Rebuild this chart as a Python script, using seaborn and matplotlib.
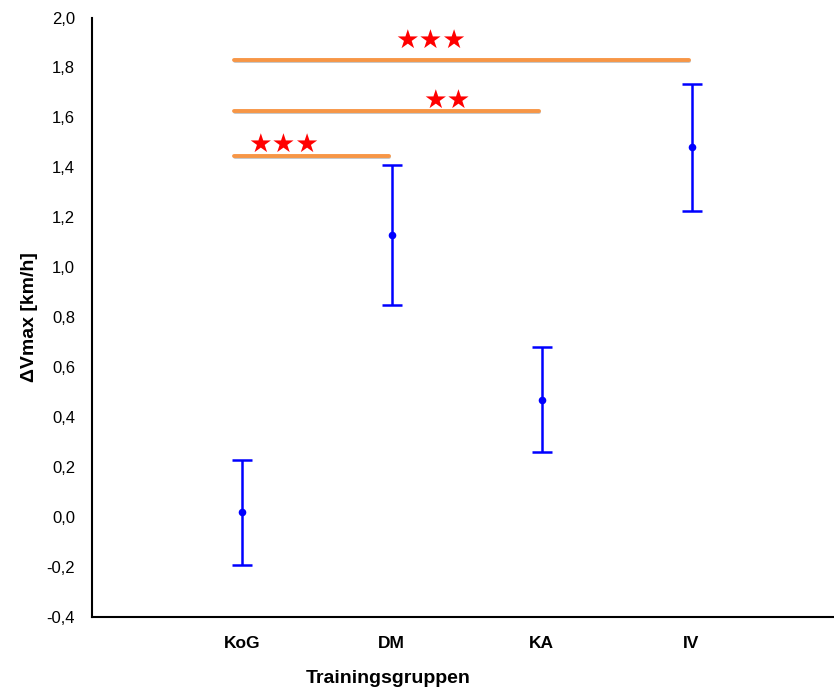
import matplotlib
matplotlib.use("Agg")
import matplotlib.pyplot as plt
import matplotlib.patheffects as pe
from matplotlib.ticker import FuncFormatter, MultipleLocator
import numpy as np
import pandas as pd
import seaborn as sns

# Mean change in Vmax per training group with error margins
groups = ["KoG", "DM", "KA", "IV"]
means = [0.02, 1.13, 0.47, 1.48]
errors = [0.21, 0.28, 0.21, 0.255]

# Significance brackets: start group, end group, height, star label, label x
bracket_start = [0, 0, 0]
bracket_end = [1, 2, 3]
bracket_y = [1.445, 1.625, 1.83]
bracket_stars = ["★★★", "★★", "★★★"]
star_x = [0.28, 1.37, 1.26]
star_y = [1.49, 1.665, 1.905]

sns.set_theme(style="white")
plt.rcParams["font.family"] = ["Liberation Sans", "DejaVu Sans"]
plt.rcParams["text.color"] = "black"
plt.rcParams["axes.labelcolor"] = "black"
plt.rcParams["xtick.color"] = "black"
plt.rcParams["ytick.color"] = "black"

df = pd.DataFrame({"group": groups, "mean": means, "err": errors})
df["pos"] = np.arange(len(groups))

fig = plt.figure(figsize=(8.34, 6.93), dpi=100)
ax = fig.add_axes([0.110, 0.1097, 0.89, 0.865])

orange = "#F79646"
for s, e, y in zip(bracket_start, bracket_end, bracket_y):
    ax.plot([s - 0.05, e - 0.02], [y, y], color=orange, lw=2.8,
            solid_capstyle="round", zorder=2,
            path_effects=[pe.SimpleLineShadow(offset=(0.6, -0.8), alpha=0.25),
                          pe.Normal()])
for x, y, t in zip(star_x, star_y, bracket_stars):
    ax.text(x, y, t, color="#FF0000", fontsize=19, ha="center", va="center",
            family=["DejaVu Sans"], zorder=3)

ax.errorbar(df["pos"], df["mean"], yerr=df["err"], fmt="none",
            ecolor="#0000FF", elinewidth=1.8, capsize=7, capthick=1.8, zorder=4)
sns.scatterplot(data=df, x="pos", y="mean", ax=ax, color="#0000FF", s=30,
                edgecolor="#0000FF", linewidth=0, zorder=5, legend=False)

ax.set_xlim(-1.0, 3.95)
ax.set_ylim(-0.4, 2.0)
ax.yaxis.set_major_locator(MultipleLocator(0.2))
ax.yaxis.set_major_formatter(FuncFormatter(lambda v, _: f"{v:.1f}".replace(".", ",")))
ax.set_xticks(df["pos"])
ax.set_xticklabels(groups, fontweight="bold", fontsize=12.5)
ax.tick_params(axis="y", labelsize=12, length=0, pad=12)
ax.tick_params(axis="x", length=0, pad=14)

for side in ["top", "right"]:
    ax.spines[side].set_visible(False)
for side in ["left", "bottom"]:
    ax.spines[side].set_color("black")
    ax.spines[side].set_linewidth(1.5)

ax.set_xlabel("Trainingsgruppen", fontsize=14, fontweight="bold")
ax.set_ylabel("ΔVmax [km/h]", fontsize=14, fontweight="bold")
ax.xaxis.set_label_coords(0.40, -0.088)
ax.yaxis.set_label_coords(-0.072, 0.5)

fig.savefig("out.png", dpi=100)
